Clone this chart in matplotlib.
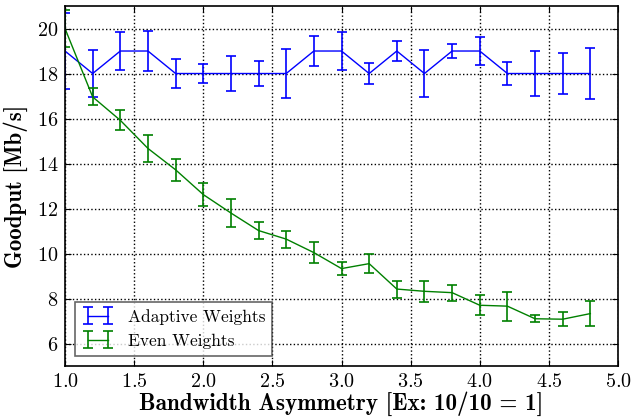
import numpy as np
import matplotlib
matplotlib.use("Agg")
import matplotlib.pyplot as plt

plt.rcParams['font.family'] = 'serif'
plt.rcParams['font.serif'] = ['cmr10', 'DejaVu Serif']
plt.rcParams['mathtext.fontset'] = 'cm'
plt.rcParams['axes.unicode_minus'] = False
plt.rcParams['axes.formatter.use_mathtext'] = True

# bandwidth asymmetry ratios
asym = [1.0, 1.2, 1.4, 1.6, 1.8, 2.0, 2.2, 2.4, 2.6, 2.8,
        3.0, 3.2, 3.4, 3.6, 3.8, 4.0, 4.2, 4.4, 4.6, 4.8]

# adaptive weights goodput and std
adaptive = [19, 18, 19, 19, 18, 18, 18, 18, 18, 19,
            19, 18, 19, 18, 19, 19, 18, 18, 18, 18]
adaptive_err = [1.67, 1.03, 0.86, 0.9, 0.65, 0.42, 0.78, 0.56, 1.1, 0.66,
                0.83, 0.48, 0.45, 1.03, 0.29, 0.62, 0.52, 1.0, 0.93, 1.14]

# even weights goodput and std
even = [20.0, 16.96, 15.92, 14.67, 13.72, 12.62, 11.8, 11.02, 10.64, 10.04,
        9.33, 9.55, 8.42, 8.32, 8.26, 7.7, 7.66, 7.1, 7.08, 7.33]
even_err = [0.83, 0.38, 0.45, 0.59, 0.49, 0.52, 0.62, 0.37, 0.38, 0.48,
            0.3, 0.42, 0.38, 0.47, 0.36, 0.45, 0.64, 0.16, 0.3, 0.56]

fig = plt.figure(figsize=(6.33, 4.18), dpi=100)
ax = fig.add_axes([0.1027, 0.1244, 0.8736, 0.8612])

ax.errorbar(asym, adaptive, yerr=adaptive_err, color='b', lw=1,
            capsize=3.5, capthick=1.2, elinewidth=1.2, label='Adaptive Weights')
ax.errorbar(asym, even, yerr=even_err, color='g', lw=1,
            capsize=3.5, capthick=1.2, elinewidth=1.2, label='Even Weights')

ax.set_xlim(1.0, 5.0)
ax.set_ylim(5, 21)
ax.set_xticks(np.arange(1.0, 5.01, 0.5))
ax.set_yticks(np.arange(6, 21, 2))
ax.grid(True, color='k', linestyle=':', linewidth=1)
ax.tick_params(direction='in', top=True, right=True, length=4, labelsize=14.5, pad=5)
for s in ax.spines.values():
    s.set_linewidth(1.2)

ax.set_xlabel('Bandwidth Asymmetry [Ex: 10/10 = 1]', fontsize=16.7,
              fontfamily='cmb10', labelpad=0)
ax.set_ylabel('Goodput [Mb/s]', fontsize=16.5, fontfamily='cmb10', labelpad=6)

leg = ax.legend(loc='lower left', numpoints=2, fontsize=12.5, fancybox=False,
                borderaxespad=0.6, handlelength=1.8)
leg.get_frame().set_edgecolor('0.25')
leg.get_frame().set_linewidth(1.2)

fig.savefig('out.png', dpi=100)
